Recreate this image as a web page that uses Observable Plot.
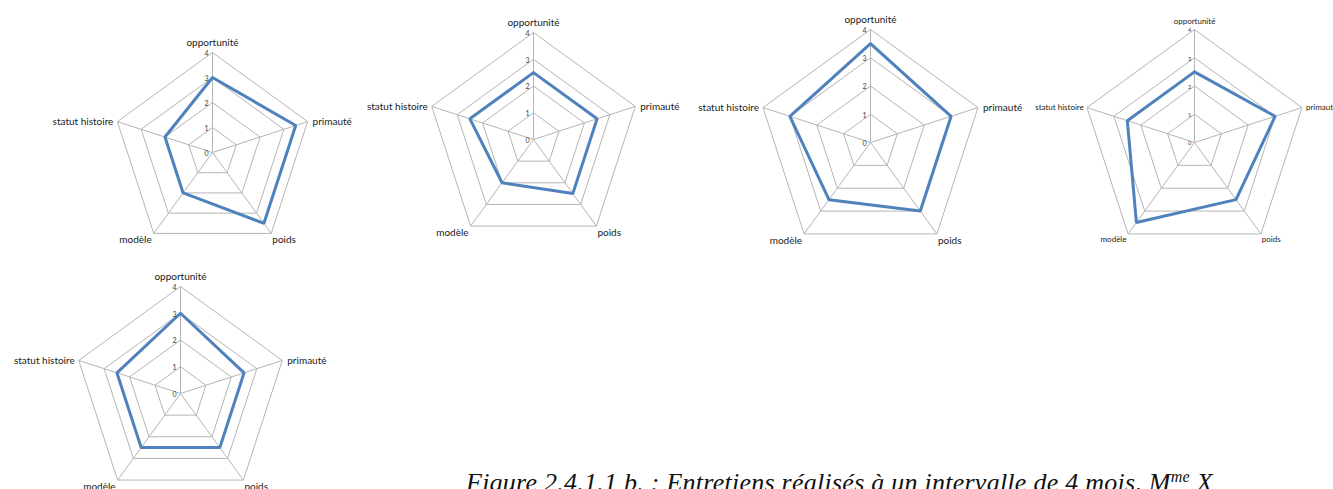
<!DOCTYPE html>
<html>
<head>
<meta charset="utf-8">
<script src="https://cdn.jsdelivr.net/npm/d3@7"></script>
<script src="https://cdn.jsdelivr.net/npm/@observablehq/plot@0.6"></script>
<style>
  html, body { margin: 0; padding: 0; background: white; }
  #page { position: relative; width: 1333px; height: 489px; overflow: hidden; background: white; }
  .radar { position: absolute; }
  #caption { position: absolute; left: 466px; top: 470px; white-space: nowrap;
    font-family: "Liberation Serif", "DejaVu Serif", serif; font-style: italic; font-size: 26px; letter-spacing: 0.25px; line-height: 1; color: #111; }
  #caption sup { font-size: 0.62em; vertical-align: 0.55em; line-height: 0; }
</style>
</head>
<body>
<div id="page"></div>
<script>
// ---- data ----
const axes = ["opportunité", "primauté", "poids", "modèle", "statut histoire"];
const entretien1 = [3, 3.5, 3.5, 2, 2];
const entretien2 = [2.5, 2.5, 2.5, 2, 2.5];
const entretien3 = [3.5, 3, 3, 2.5, 3];
const entretien4 = [2.5, 3, 2.5, 3.5, 2.5];
const entretien5 = [3, 2.5, 2.5, 2.5, 2.5];
const tickValues = [0, 1, 2, 3, 4];
const captionText = "Figure 2.4.1.1 b. : Entretiens réalisés à un intervalle de 4 mois, M";
const captionSup = "me";
const captionEnd = " X";

// ---- layout (page placement of each radar) ----
const layout = [
  {values: entretien1, cx: 212, cy: 152.3, R: 100, k: 1},
  {values: entretien2, cx: 533, cy: 139, R: 107, k: 1},
  {values: entretien3, cx: 870, cy: 141.6, R: 113, k: 1},
  {values: entretien4, cx: 1193.5, cy: 141.6, R: 113, k: 0.8},
  {values: entretien5, cx: 180, cy: 392.7, R: 107, k: 1}
];

const maxV = 4;
const n = axes.length;
const angle = i => (i * 2 * Math.PI) / n;
const px = (v, i) => v * Math.sin(angle(i));
const py = (v, i) => v * Math.cos(angle(i));

const gridColor = "#b5b5b5";
const lineColor = "#4f81bd";
const font = "Lato, 'Open Sans', sans-serif";

function radar(cfg) {
  const pad = 95;
  const w = 2 * cfg.R + 2 * pad;
  const k = cfg.k;
  const rings = [];
  for (const t of tickValues.filter(t => t > 0)) {
    for (let i = 0; i <= n; i++) rings.push({level: t, x: px(t, i % n), y: py(t, i % n)});
  }
  const spokes = axes.map((a, i) => ({a, x: px(maxV, i), y: py(maxV, i)}));
  const series = [];
  for (let i = 0; i <= n; i++) series.push({x: px(cfg.values[i % n], i % n), y: py(cfg.values[i % n], i % n)});
  const lab = axes.map((a, i) => ({a, i, x: px(maxV, i), y: py(maxV, i)}));
  const fs = 10 * k;
  const common = {fontSize: fs, fill: "#1a1a1a", fontFamily: font};
  const plot = Plot.plot({
    width: w, height: w,
    marginLeft: pad, marginRight: pad, marginTop: pad, marginBottom: pad,
    x: {domain: [-maxV, maxV], axis: null},
    y: {domain: [-maxV, maxV], axis: null},
    style: {background: "transparent", overflow: "visible"},
    marks: [
      Plot.line(rings, {x: "x", y: "y", z: "level", stroke: gridColor, strokeWidth: 1}),
      Plot.link(spokes, {x1: 0, y1: 0, x2: "x", y2: "y", stroke: gridColor, strokeWidth: 1}),
      Plot.line(series, {x: "x", y: "y", stroke: lineColor, strokeWidth: 3, strokeLinejoin: "miter", curve: "linear"}),
      Plot.text(tickValues, {x: 0, y: d => d, text: d => String(d), textAnchor: "end", dx: -4 * k, dy: 1, fontSize: 7 * k, fill: "#404040", fontFamily: font}),
      Plot.text(lab.filter(d => d.i === 0), {x: "x", y: "y", text: "a", textAnchor: "middle", dy: -9.5 * k, ...common}),
      Plot.text(lab.filter(d => d.i === 1), {x: "x", y: "y", text: "a", textAnchor: "start", dx: 5 * k, ...common}),
      Plot.text(lab.filter(d => d.i === 2), {x: "x", y: "y", text: "a", textAnchor: "start", dx: 1 * k, dy: 6.5 * k, ...common}),
      Plot.text(lab.filter(d => d.i === 3), {x: "x", y: "y", text: "a", textAnchor: "end", dx: -2 * k, dy: 6.5 * k, ...common}),
      Plot.text(lab.filter(d => d.i === 4), {x: "x", y: "y", text: "a", textAnchor: "end", dx: -4 * k, ...common})
    ]
  });
  plot.classList.add("radar");
  plot.style.left = (cfg.cx - cfg.R - pad) + "px";
  plot.style.top = (cfg.cy - cfg.R - pad) + "px";
  plot.style.maxWidth = "none";
  return plot;
}

const page = document.getElementById("page");
for (const cfg of layout) page.appendChild(radar(cfg));

const cap = document.createElement("div");
cap.id = "caption";
cap.appendChild(document.createTextNode(captionText));
const sup = document.createElement("sup");
sup.textContent = captionSup;
cap.appendChild(sup);
cap.appendChild(document.createTextNode(captionEnd));
page.appendChild(cap);
</script>
</body>
</html>
